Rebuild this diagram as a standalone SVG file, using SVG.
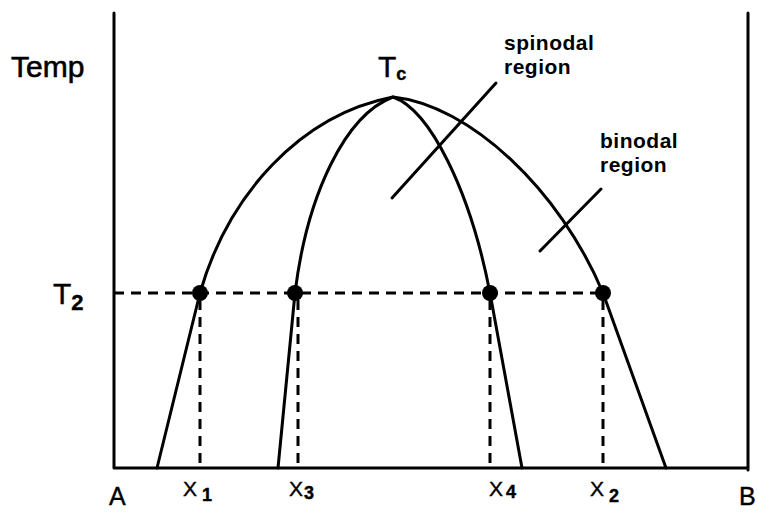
<svg xmlns="http://www.w3.org/2000/svg" width="758" height="512" viewBox="0 0 758 512">
<style>
.ln{fill:none;stroke:#000;stroke-width:3;stroke-linecap:round;stroke-linejoin:round}
.ds{fill:none;stroke:#000;stroke-width:3;stroke-dasharray:10 7}
.t{font-family:"Liberation Sans",Arial,sans-serif;fill:#000}
.lb{font-family:"Liberation Sans",Arial,sans-serif;font-weight:bold;font-size:21px;letter-spacing:0.5px;fill:#000}
.dot{fill:#000}
</style>
<rect width="758" height="512" fill="#fff"/>
<g id="axes">
<path class="ln" d="M114,13 L114,468 L748,468 M748,13 L748,470"/>
</g>
<g id="connectors">
<path class="ln" d="M157,468 L200,293 C228,195 300,115 393,97 C470,105 560,190 603,293 L666,468"/>
<path class="ln" d="M278,468 L295,293 C307,195 345,115 393,97 C430,110 470,190 490,293 L522,468"/>
<path class="ds" d="M114,293 L603,293"/>
<path class="ds" d="M200,300 L200,468 M298,300 L298,468 M490,300 L490,468 M603,300 L603,468"/>
<path class="ln" d="M496,83 L392,198"/>
<path class="ln" d="M601,189 L540,251"/>
</g>
<g id="points">
<circle class="dot" cx="200" cy="293" r="8"/>
<circle class="dot" cx="295" cy="293" r="8"/>
<circle class="dot" cx="490" cy="293" r="8"/>
<circle class="dot" cx="603" cy="293" r="8"/>
</g>
<g id="labels">
<text class="t" x="11" y="77" font-size="30" stroke="#000" stroke-width="0.6">Temp</text>
<text class="t" x="378" y="77" font-size="30" stroke="#000" stroke-width="0.4">T<tspan font-size="18" font-weight="bold" dy="3">c</tspan></text>
<text class="t" x="53" y="304" font-size="30" stroke="#000" stroke-width="0.4">T<tspan font-size="22" font-weight="bold" dy="6">2</tspan></text>
<text class="lb" x="504" y="50">spinodal</text>
<text class="lb" x="504" y="74">region</text>
<text class="lb" x="600" y="148">binodal</text>
<text class="lb" x="600" y="172">region</text>
<text class="t" x="109" y="505" font-size="25" stroke="#000" stroke-width="0.4">A</text>
<text class="t" x="739" y="505" font-size="25" stroke="#000" stroke-width="0.4">B</text>
<text class="t" x="183" y="496" font-size="21" stroke="#000" stroke-width="0.4">X<tspan font-size="18" font-weight="bold" dx="5" dy="5">1</tspan></text>
<text class="t" x="289" y="496" font-size="21" stroke="#000" stroke-width="0.4">X<tspan font-size="18" font-weight="bold" dx="1" dy="3">3</tspan></text>
<text class="t" x="489" y="496" font-size="21" stroke="#000" stroke-width="0.4">X<tspan font-size="18" font-weight="bold" dx="3" dy="2">4</tspan></text>
<text class="t" x="590" y="496" font-size="21" stroke="#000" stroke-width="0.4">X<tspan font-size="18" font-weight="bold" dx="5" dy="6">2</tspan></text>
</g>
</svg>
